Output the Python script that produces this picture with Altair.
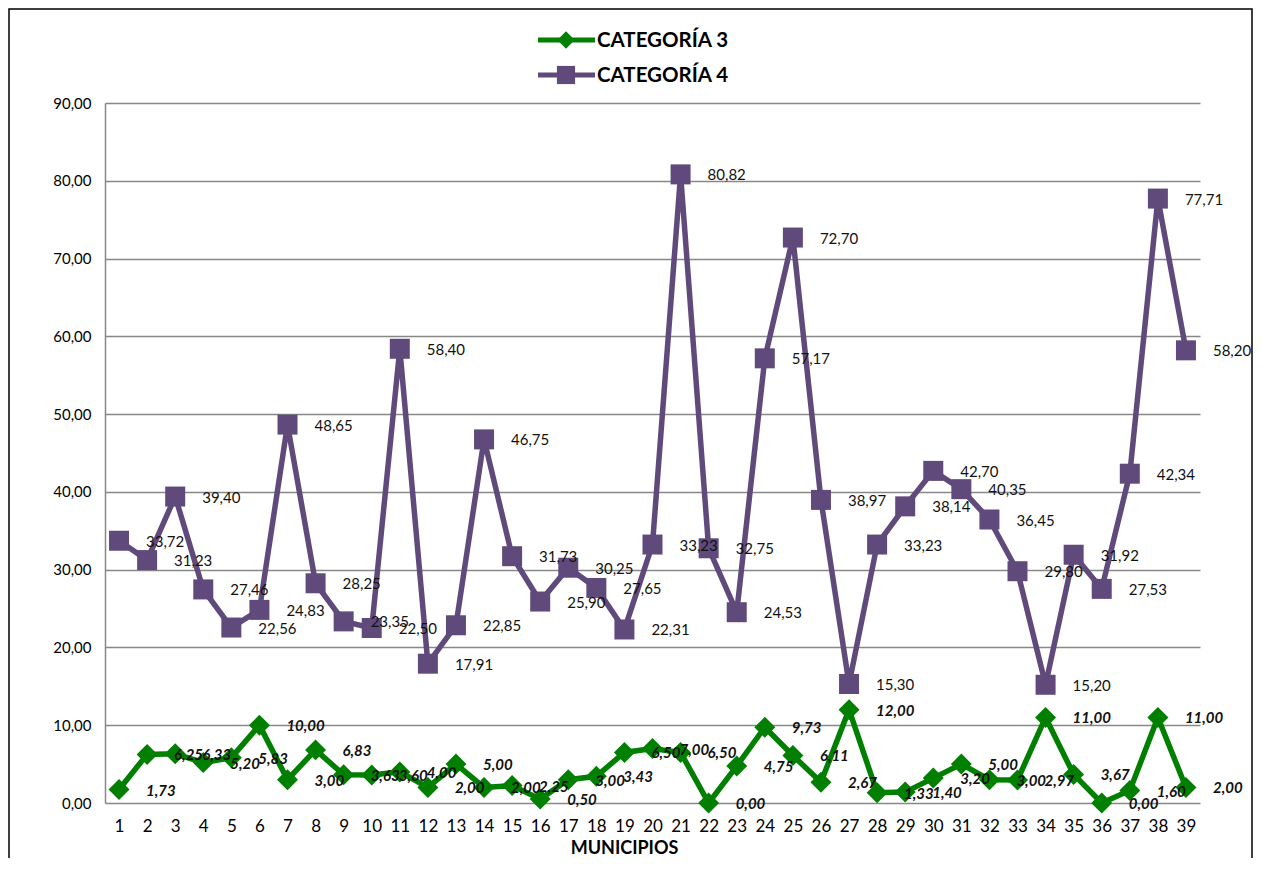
import altair as alt
import pandas as pd

municipios = list(range(1, 40))
serie_nombres = ["CATEGORÍA 3", "CATEGORÍA 4"]
categoria_3 = [1.73, 6.25, 6.33, 5.20, 5.83, 10.00, 3.00, 6.83, 3.63, 3.60,
               4.00, 2.00, 5.00, 2.00, 2.25, 0.50, 3.00, 3.43, 6.50, 7.00,
               6.50, 0.00, 4.75, 9.73, 6.11, 2.67, 12.00, 1.33, 1.40, 3.20,
               5.00, 3.00, 2.97, 11.00, 3.67, 0.00, 1.60, 11.00, 2.00]
categoria_4 = [33.72, 31.23, 39.40, 27.46, 22.56, 24.83, 48.65, 28.25, 23.35, 22.50,
               58.40, 17.91, 22.85, 46.75, 31.73, 25.90, 30.25, 27.65, 22.31, 33.23,
               80.82, 32.75, 24.53, 57.17, 72.70, 38.97, 15.30, 33.23, 38.14, 42.70,
               40.35, 36.45, 29.80, 15.20, 31.92, 27.53, 42.34, 77.71, 58.20]
y_ticks = [0, 10, 20, 30, 40, 50, 60, 70, 80, 90]

VERDE = "#007F00"
MORADO = "#604A7B"
FONT = "Lato"


def fmt(v):
    return f"{v:.2f}".replace(".", ",")


df3 = pd.DataFrame({"municipio": municipios, "valor": categoria_3,
                    "serie": serie_nombres[0]})
df3["etiqueta"] = df3["valor"].map(fmt)
df4 = pd.DataFrame({"municipio": municipios, "valor": categoria_4,
                    "serie": serie_nombres[1]})
df4["etiqueta"] = df4["valor"].map(fmt)

x_enc = alt.X("municipio:O",
              scale=alt.Scale(type="point", padding=0.5),
              axis=alt.Axis(title="MUNICIPIOS", labelAngle=0, labelFont=FONT,
                            labelFontSize=17, labelColor="#000000", labelPadding=15,
                            tickSize=0, domain=False, grid=False,
                            titleFont=FONT, titleFontSize=18, titleFontWeight="bold",
                            titleColor="#000000", titleX=519, titleY=45,
                            titleAlign="center", titleBaseline="middle"))
y_enc = alt.Y("valor:Q",
              scale=alt.Scale(domain=[0, 90], nice=False, zero=True),
              axis=alt.Axis(title=None, values=y_ticks,
                            labelExpr="replace(format(datum.value, '.2f'), '.', ',')",
                            labelFont=FONT, labelFontSize=15, labelColor="#000000",
                            labelPadding=14, tickSize=0, grid=True,
                            gridColor="#888888", gridWidth=1.5,
                            domain=True, domainColor="#888888", domainWidth=1.5))

line4 = alt.Chart(df4).mark_line(color=MORADO, strokeWidth=5.5).encode(x=x_enc, y=y_enc)
pts4 = alt.Chart(df4).mark_point(shape="square", filled=True, size=400,
                                 color=MORADO, opacity=1).encode(x=x_enc, y=y_enc)
line3 = alt.Chart(df3).mark_line(color=VERDE, strokeWidth=5.5).encode(x=x_enc, y=y_enc)
pts3 = alt.Chart(df3).mark_point(shape="diamond", filled=True, size=440,
                                 color=VERDE, opacity=1).encode(x=x_enc, y=y_enc)

txt4 = alt.Chart(df4).mark_text(align="left", baseline="middle", dx=27, dy=1,
                                font=FONT, fontSize=15, color="#111111").encode(
    x=x_enc, y=y_enc, text="etiqueta:N")
txt3 = alt.Chart(df3).mark_text(align="left", baseline="middle", dx=27, dy=1,
                                font=FONT, fontSize=15, fontStyle="italic",
                                fontWeight="bold", color="#111111").encode(
    x=x_enc, y=y_enc, text="etiqueta:N")

# legend (drawn as decoration above the plot area)
leg_layers = []
for nombre, col, shape, size, ypix in [(serie_nombres[0], VERDE, "diamond", 300, -63),
                                       (serie_nombres[1], MORADO, "square", 330, -28)]:
    d = pd.DataFrame({"serie": [nombre]})
    base = alt.Chart(d)
    leg_layers.append(base.mark_rule(color=col, strokeWidth=5).encode(
        x=alt.value(433), x2=alt.value(490), y=alt.value(ypix)))
    leg_layers.append(base.mark_point(shape=shape, filled=True, size=size,
                                      color=col, opacity=1).encode(
        x=alt.value(461), y=alt.value(ypix)))
    leg_layers.append(base.mark_text(align="left", baseline="middle", font=FONT,
                                     fontSize=20.5, fontWeight="bold",
                                     color="#000000").encode(
        x=alt.value(492), y=alt.value(ypix + 1), text="serie:N"))

borde = alt.Chart(pd.DataFrame({"b": [0]})).mark_rect(
    fillOpacity=0, stroke="#000000", strokeWidth=1.5).encode(
    x=alt.value(-96), x2=alt.value(1147), y=alt.value(-94), y2=alt.value(800))

chart = alt.layer(line4, pts4, line3, pts3, txt4, txt3, *leg_layers, borde).properties(
    width=1095, height=700,
    autosize=alt.AutoSizeParams(type="none"),
    padding={"left": 97, "top": 95, "right": 54, "bottom": 55},
    background="#ffffff",
).configure_view(stroke=None)

chart.save("out.html", embed_options={"renderer": "svg", "actions": False})
